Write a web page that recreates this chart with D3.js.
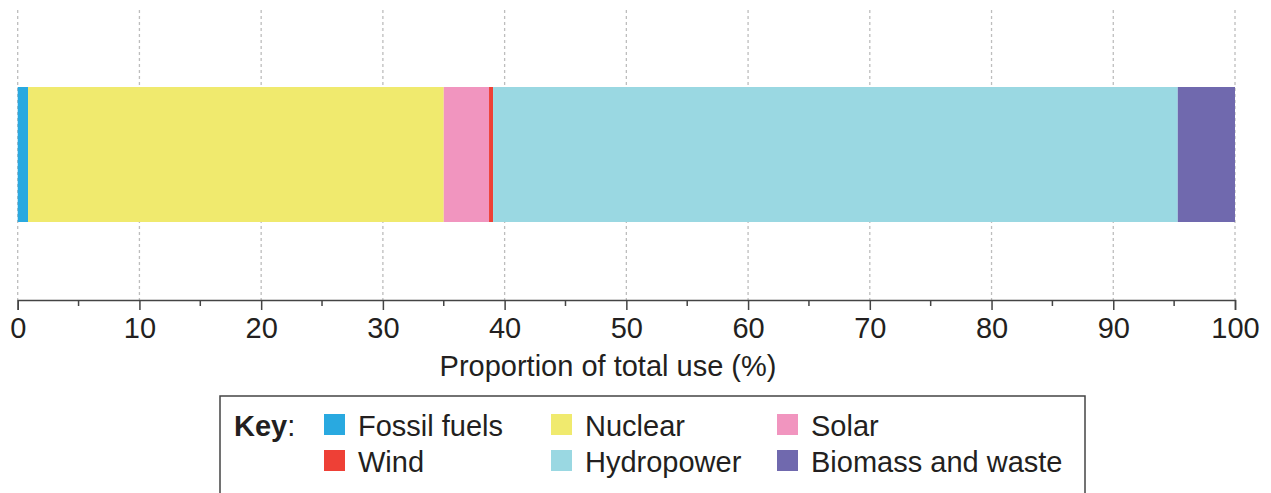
<!DOCTYPE html>
<html><head><meta charset="utf-8">
<script src="https://cdn.jsdelivr.net/npm/d3@7"></script>
<style>
body{margin:0;background:#fff;}
svg{display:block;font-family:"Liberation Sans",Arial,Helvetica,sans-serif;}
</style></head>
<body>
<svg id="chart" width="1271" height="493"></svg>
<script>
const categories = ["Fossil fuels","Nuclear","Solar","Wind","Hydropower","Biomass and waste"];
const values = [0.85, 34.15, 3.72, 0.33, 56.25, 4.7];
const colors = ["#29a9e0","#f0ea6e","#f195bf","#ee4036","#9ad8e2","#7069ae"];
const majorTicks = [0,10,20,30,40,50,60,70,80,90,100];
const minorTicks = [5,15,25,35,45,55,65,75,85,95];
const axisTitle = "Proportion of total use (%)";
const legendOrder = ["Fossil fuels","Nuclear","Solar","Wind","Hydropower","Biomass and waste"];

const FS = 29;
const svg = d3.select("#chart");
const x = d3.scaleLinear().domain([0,100]).range([17.7,1235]);
const barTop = 87, barH = 135, axisY = 300;

// gridlines
svg.append("g").selectAll("line").data(majorTicks).join("line")
  .attr("x1",d=>x(d)).attr("x2",d=>x(d)).attr("y1",10).attr("y2",axisY)
  .attr("stroke","#bdbdbd").attr("stroke-width",1.3).attr("stroke-dasharray","3,3");

// stacked bar
let acc = 0;
const segs = values.map((v,i)=>{const s={name:categories[i],x0:acc,x1:acc+v,c:colors[i]}; acc+=v; return s;});
svg.append("g").selectAll("rect").data(segs).join("rect")
  .attr("x",d=>x(d.x0)).attr("width",d=>x(d.x1)-x(d.x0))
  .attr("y",barTop).attr("height",barH).attr("fill",d=>d.c);

// axis
const ax = svg.append("g").attr("transform",`translate(0,${axisY})`)
  .call(d3.axisBottom(x).tickValues(majorTicks).tickSize(10).tickFormat(d3.format("d")));
ax.select(".domain").attr("stroke","#444").attr("stroke-width",1.5);
ax.selectAll(".tick line").attr("stroke","#444").attr("stroke-width",1.5);
ax.selectAll(".tick text").attr("font-size",FS).attr("fill","#231f20")
  .attr("font-family","Liberation Sans, Arial, sans-serif").attr("y",38).attr("dy",0);
svg.append("g").attr("transform",`translate(0,${axisY})`).selectAll("line").data(minorTicks).join("line")
  .attr("x1",d=>x(d)).attr("x2",d=>x(d)).attr("y1",0).attr("y2",6)
  .attr("stroke","#444").attr("stroke-width",1.5);

svg.append("text").attr("x",608).attr("y",376).attr("text-anchor","middle")
  .attr("font-size",FS).attr("fill","#231f20").text(axisTitle);

// legend
svg.append("rect").attr("x",220).attr("y",396).attr("width",865).attr("height",120)
  .attr("fill","none").attr("stroke","#444").attr("stroke-width",1.5);
const kt = svg.append("text").attr("x",234).attr("y",436).attr("font-size",FS).attr("fill","#231f20");
kt.append("tspan").attr("font-weight","bold").text("Key");
kt.append("tspan").text(":");
const colX = [324,551,777], rowY = [436,472];
const lg = svg.append("g").selectAll("g").data(legendOrder).join("g")
  .attr("transform",(d,i)=>`translate(${colX[i%3]},${rowY[Math.floor(i/3)]})`);
lg.append("rect").attr("x",0).attr("y",-22).attr("width",21).attr("height",21)
  .attr("fill",d=>colors[categories.indexOf(d)]);
lg.append("text").attr("x",34).attr("y",0).attr("font-size",FS).attr("fill","#231f20").text(d=>d);
</script>
</body></html>
